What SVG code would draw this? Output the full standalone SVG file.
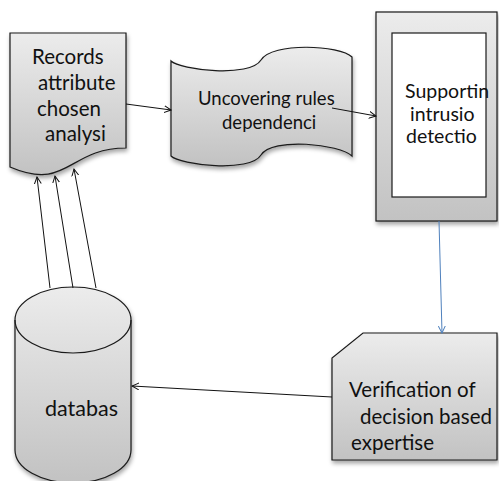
<svg xmlns="http://www.w3.org/2000/svg" width="499" height="481" viewBox="0 0 499 481">
<style>
  .shape { stroke: #1a1a1a; stroke-width: 1.2; fill: url(#g); filter: url(#sh); }
  .lbl { font-family: Lato, "Liberation Sans", sans-serif; font-size: 20.5px; fill: #111; }
  .edge { stroke: #111; stroke-width: 1; fill: none; marker-end: url(#ah); }
  .blue { stroke: #4f81bd; stroke-width: 1; fill: none; marker-end: url(#ahb); }
</style>
<defs>
  <linearGradient id="g" x1="0" y1="0" x2="0" y2="1">
    <stop offset="0" stop-color="#ececec"/>
    <stop offset="1" stop-color="#c2c2c2"/>
  </linearGradient>
  <filter id="sh" x="-10%" y="-10%" width="130%" height="130%">
    <feDropShadow dx="1" dy="3" stdDeviation="2" flood-color="#000" flood-opacity="0.35"/>
  </filter>
  <marker id="ah" markerWidth="8" markerHeight="8" refX="7" refY="4" orient="auto" markerUnits="userSpaceOnUse">
    <path d="M0,0.5 L7,4 L0,7.5" fill="none" stroke="#111" stroke-width="1"/>
  </marker>
  <marker id="ahb" markerWidth="8" markerHeight="8" refX="7" refY="4" orient="auto" markerUnits="userSpaceOnUse">
    <path d="M0,0.5 L7,4 L0,7.5" fill="none" stroke="#4f81bd" stroke-width="1"/>
  </marker>
</defs>
<rect width="499" height="481" fill="#fff"/>

<g id="records">
  <path class="shape" d="M10,33 H126 V148 C68,148 68,191.8 10,167 Z"/>
  <text class="lbl" x="32" y="64">Records</text>
  <text class="lbl" x="38" y="90">attribute</text>
  <text class="lbl" x="37" y="116">chosen</text>
  <text class="lbl" x="45" y="141">analysi</text>
</g>

<g id="uncovering">
  <path class="shape" d="M171,61 C180,70 250,78 261,60 C272,42 340,45 352,57 L352,156 C340,144 272,137 261,155 C250,173 180,165 171,156 Z"/>
  <text class="lbl" x="198" y="105" style="font-size:18.5px">Uncovering rules</text>
  <text class="lbl" x="222" y="129" style="font-size:18.5px">dependenci</text>
</g>

<g id="supporting">
  <rect class="shape" x="376" y="12" width="121" height="209"/>
  <rect x="392" y="33" width="94" height="164" fill="#fff" stroke="#1a1a1a" stroke-width="1.2"/>
  <text class="lbl" x="405" y="98" style="font-size:19.5px">Supportin</text>
  <text class="lbl" x="410" y="120.5" style="font-size:19.5px">intrusio</text>
  <text class="lbl" x="406" y="143" style="font-size:19.5px">detectio</text>
</g>

<g id="verification">
  <path class="shape" d="M363,333 H497 V460 H332 V358 Z"/>
  <text class="lbl" x="349" y="397">Verification of</text>
  <text class="lbl" x="360" y="424">decision based</text>
  <text class="lbl" x="351" y="450">expertise</text>
</g>

<g id="database">
  <path class="shape" d="M15,320 A58,33 0 0 1 131,320 V450 A58,33 0 0 1 15,450 Z"/>
  <path d="M15,320 A58,33 0 0 0 131,320" fill="none" stroke="#1a1a1a" stroke-width="1.2"/>
  <text class="lbl" x="45" y="416" style="font-size:21.5px">databas</text>
</g>

<g id="connectors">
  <line class="edge" x1="126" y1="104" x2="171" y2="110"/>
  <line class="edge" x1="332" y1="108" x2="376" y2="116"/>
  <line class="blue" x1="439" y1="221" x2="442" y2="333"/>
  <line class="edge" x1="332" y1="397" x2="132" y2="386"/>
  <line class="edge" x1="50" y1="288" x2="37" y2="177"/>
  <line class="edge" x1="73" y1="288" x2="55" y2="176"/>
  <line class="edge" x1="96" y1="288" x2="74" y2="169"/>
</g>
</svg>
